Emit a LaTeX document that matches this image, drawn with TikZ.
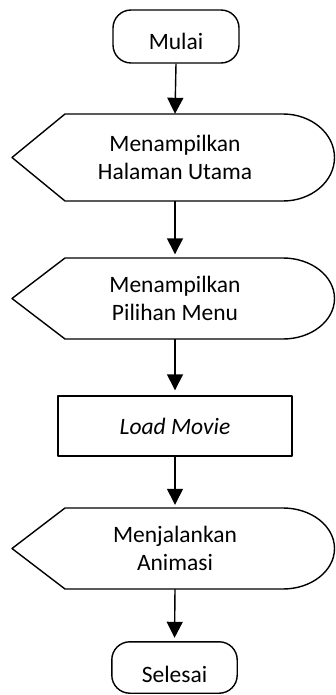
\documentclass[tikz,border=0pt]{standalone}
\usepackage{fontspec}
\setmainfont{Carlito}
\usetikzlibrary{arrows.meta}
\tikzset{
  shapeline/.style={draw=black, line width=1.4pt, line join=round},
  txt/.style={inner sep=0pt, align=center, font=\fontsize{23.5}{28}\selectfont},
  term/.style={txt, rectangle, rounded corners=18pt},
  conn/.style={line width=1.4pt, -{Triangle[width=16pt,length=16pt]}},
}
\newcommand{\dispshape}[2]{%
  \draw[shapeline] (65,-#1) -- (283,-#1)
    arc[start angle=90, end angle=-90, x radius=51.5pt, y radius={(#2-#1)/2*1pt}]
    -- (65,-#2) -- (12,{-(#1+#2)/2}) -- cycle;}
\begin{document}
\begin{tikzpicture}[x=1pt, y=1pt]
\useasboundingbox (0,0) rectangle (336,-695);
% Mulai
\node[term, shapeline, minimum width=126pt, minimum height=53pt, text height=27pt, text depth=0pt] (mulai) at (176,-36.5) {Mulai};
% Display 1
\dispshape{114}{201}
\node[txt, minimum width=218pt, minimum height=87pt] (d1) at (175,-157.5) {Menampilkan\\Halaman Utama};
% Display 2
\dispshape{258}{339}
\node[txt, minimum width=218pt, minimum height=81pt] (d2) at (175,-298.5) {Menampilkan\\Pilihan Menu};
% Load Movie
\node[txt, shapeline, minimum width=234pt, minimum height=60pt] (load) at (175,-426) {\itshape Load Movie};
% Display 3
\dispshape{508}{589}
\node[txt, minimum width=218pt, minimum height=81pt] (d3) at (175,-548.5) {Menjalankan\\Animasi};
% Selesai (text clipped at bottom)
\begin{scope}
  \clip (100,-630) rectangle (250,-682.5);
  \node[term, minimum width=125pt, minimum height=51pt, text height=29pt, text depth=0pt] (selesai) at (174.5,-667.5) {Selesai};
\end{scope}
\draw[shapeline, rounded corners=18pt] (selesai.north west) rectangle (selesai.south east);
% connectors
\draw[conn] (mulai.south) -- (d1.north);
\draw[conn, shorten >=3.5pt] (d1.south) -- (d2.north);
\draw[conn, shorten >=5pt] (d2.south) -- (load.north);
\draw[conn, shorten >=3pt] (load.south) -- (d3.north);
\draw[conn, shorten >=4pt] (d3.south) -- (selesai.north);
\end{tikzpicture}
\end{document}
